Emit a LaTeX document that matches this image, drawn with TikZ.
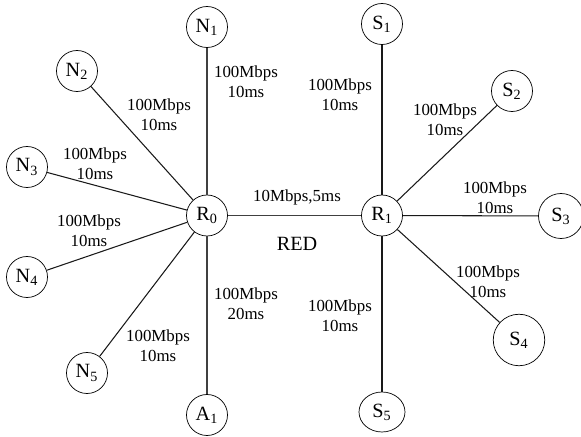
\documentclass[tikz,border=0pt]{standalone}
\usepackage{fontspec}
\setmainfont{Liberation Serif}
\usepackage{tikz}
\usetikzlibrary{positioning,shapes.geometric}

\begin{document}
\begin{tikzpicture}[
        host/.style={draw, circle, inner sep=0pt, minimum size=0.82cm, font=\fontsize{11.5}{13}\selectfont},
        link/.style={draw=black!90, line width=0.6pt},
        trunk/.style={draw=black!75, line width=0.9pt},
        lbl/.style={align=center, inner sep=0pt, font=\fontsize{9.6}{11.4}\selectfont}
    ]

        \useasboundingbox (0,0) rectangle (11.62,8.74);

        % Routers
        \node[host] (R0) at (4.14,4.43) {R\textsubscript{0}};
        \node[host] (R1) at (7.64,4.43) {R\textsubscript{1}};

        % Left side
        \node[host] (N1) at (4.14,8.20) {N\textsubscript{1}};
        \node[host] (N2) at (1.54,7.32) {N\textsubscript{2}};
        \node[host] (N3) at (0.54,5.40) {N\textsubscript{3}};
        \node[host] (N4) at (0.54,3.20) {N\textsubscript{4}};
        \node[host] (N5) at (1.74,1.28) {N\textsubscript{5}};
        \node[host] (A1) at (4.14,0.44) {A\textsubscript{1}};

        % Right side
        \node[host] (S1) at (7.64,8.26) {S\textsubscript{1}};
        \node[host] (S2) at (10.24,6.92) {S\textsubscript{2}};
        \node[host, minimum size=0.9cm] (S3) at (11.22,4.42) {S\textsubscript{3}};
        \node[host, minimum size=1.03cm] (S4) at (10.38,1.94) {S\textsubscript{4}};
        \node[host, ellipse, minimum width=0.92cm, minimum height=0.8cm] (S5) at (7.64,0.50) {S\textsubscript{5}};

        % Links
        \draw[trunk] (R0) -- (R1);
        \draw[trunk] (R0) -- (N1);
        \draw[trunk] (R0) -- (A1);
        \draw[link] (R0) -- (N2);
        \draw[link] (R0) -- (N3);
        \draw[link] (R0) -- (N4);
        \draw[link] (R0) -- (N5);
        \draw[link] (R1) -- (S1);
        \draw[link] (R1) -- (S2);
        \draw[link] (R1) -- (S3);
        \draw[link] (R1) -- (S4);
        \draw[link] (R1) -- (S5);

        % Link labels
        \node[lbl] (lN1) at (4.92,7.10) {100Mbps\\10ms};
        \node[lbl] (lN2) at (3.18,6.44) {100Mbps\\10ms};
        \node[lbl] (lN3) at (1.90,5.46) {100Mbps\\10ms};
        \node[lbl] (lN4) at (1.78,4.12) {100Mbps\\10ms};
        \node[lbl] (lN5) at (3.16,1.82) {100Mbps\\10ms};
        \node[lbl] (lA1) at (4.92,2.66) {100Mbps\\20ms};
        \node[lbl] (lS1) at (6.80,6.84) {100Mbps\\10ms};
        \node[lbl] (lS2) at (8.90,6.34) {100Mbps\\10ms};
        \node[lbl] (lS3) at (9.90,4.78) {100Mbps\\10ms};
        \node[lbl] (lS4) at (9.76,3.10) {100Mbps\\10ms};
        \node[lbl] (lS5) at (6.80,2.42) {100Mbps\\10ms};

        % Bottleneck
        \node[lbl] (lR) at (5.94,4.80) {10Mbps,5ms};
        \node[lbl, font=\fontsize{11.5}{13}\selectfont] (red) at (5.94,3.86) {RED};

    \end{tikzpicture}
\end{document}
